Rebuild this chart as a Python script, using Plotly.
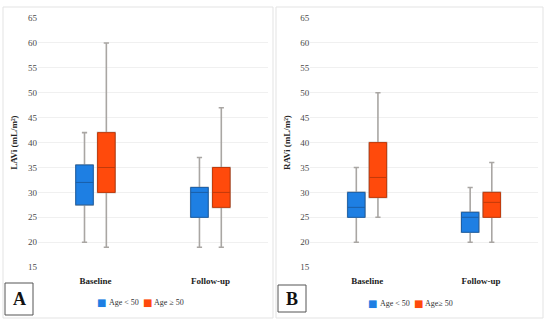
import plotly.graph_objects as go

categories = ["Baseline", "Follow-up"]

# Panel A: LAVi
lavi_young_low = [20, 19]
lavi_young_q1 = [27.5, 25]
lavi_young_med = [32, 30]
lavi_young_q3 = [35.5, 31]
lavi_young_high = [42, 37]

lavi_old_low = [19, 19]
lavi_old_q1 = [30, 27]
lavi_old_med = [35, 30]
lavi_old_q3 = [42, 35]
lavi_old_high = [60, 47]

# Panel B: RAVi
ravi_young_low = [20, 20]
ravi_young_q1 = [25, 22]
ravi_young_med = [27, 25]
ravi_young_q3 = [30, 26]
ravi_young_high = [35, 31]

ravi_old_low = [25, 20]
ravi_old_q1 = [29, 25]
ravi_old_med = [33, 28]
ravi_old_q3 = [40, 30]
ravi_old_high = [50, 36]

legend_names_a = ["Age < 50", "Age ≥ 50"]
legend_names_b = ["Age < 50", "Age≥ 50"]

fill_colors = ["#1E7FE3", "#FF4A0C"]
edge_colors = ["#1A5FA8", "#C23A0A"]
whisker_color = "#A9A6A3"
serif = "Liberation Serif, Times New Roman, serif"

fig = go.Figure()

panels = [
    ("x", "y",
     [(lavi_young_low, lavi_young_q1, lavi_young_med, lavi_young_q3, lavi_young_high),
      (lavi_old_low, lavi_old_q1, lavi_old_med, lavi_old_q3, lavi_old_high)],
     legend_names_a),
    ("x2", "y2",
     [(ravi_young_low, ravi_young_q1, ravi_young_med, ravi_young_q3, ravi_young_high),
      (ravi_old_low, ravi_old_q1, ravi_old_med, ravi_old_q3, ravi_old_high)],
     legend_names_b),
]

for xa, ya, data, names in panels:
    for i, (lo, q1, med, q3, hi) in enumerate(data):
        og = f"{xa}g{i}"
        # whiskers (gray)
        fig.add_trace(go.Box(
            x=categories, lowerfence=lo, q1=q1, median=med, q3=q3, upperfence=hi,
            name=names[i], showlegend=False,
            fillcolor=fill_colors[i], line=dict(color=whisker_color, width=1.6),
            whiskerwidth=0.3, offsetgroup=og, xaxis=xa, yaxis=ya,
            boxpoints=False, hoverinfo="skip",
        ))
        # box overlay with colored edge
        fig.add_trace(go.Box(
            x=categories, lowerfence=q1, q1=q1, median=med, q3=q3, upperfence=q3,
            name=names[i], showlegend=False,
            fillcolor=fill_colors[i], line=dict(color=edge_colors[i], width=1),
            whiskerwidth=0, offsetgroup=og, xaxis=xa, yaxis=ya,
            boxpoints=False, hoverinfo="skip",
        ))

axis_common = dict(showline=False, zeroline=False, ticks="", automargin=False,
                   tickfont=dict(family=serif, size=9, color="#4a4a4a"))
xaxis_common = dict(showgrid=False, automargin=False, ticklabelstandoff=7,
                    tickfont=dict(family=serif, size=9, color="#222"))

fig.update_layout(
    width=550, height=323,
    margin=dict(l=0, r=0, t=0, b=0, autoexpand=False),
    paper_bgcolor="white", plot_bgcolor="white",
    boxmode="group", boxgap=0.62, boxgroupgap=0.2,
    showlegend=False,
    xaxis=dict(domain=[0.069, 0.487], anchor="y", **xaxis_common),
    yaxis=dict(domain=[0.173, 0.944], anchor="x", range=[15, 65], dtick=5,
               showgrid=True, gridcolor="#F0F0F0", gridwidth=1,
               title=dict(text="<b>LAVi (mL/m²)</b>", font=dict(family=serif, size=9, color="#222"),
                          standoff=8), **axis_common),
    xaxis2=dict(domain=[0.564, 0.978], anchor="y2", **xaxis_common),
    yaxis2=dict(domain=[0.173, 0.944], anchor="x2", range=[15, 65], dtick=5,
                showgrid=True, gridcolor="#F0F0F0", gridwidth=1,
                title=dict(text="<b>RAVi (mL/m²)</b>", font=dict(family=serif, size=9, color="#222"),
                           standoff=8), **axis_common),
)

fig.update_xaxes(tickvals=categories, ticktext=[f"<b>{c}</b>" for c in categories])

def px_to_paper(x, y):
    return x / 550, 1 - y / 323

shapes = []
for (x0, y0, x1, y1, col) in [(3, 7, 273, 318, "#E3E3E3"), (276, 7, 543, 318, "#E3E3E3"),
                              (5, 283, 33, 315, "#555555"), (278, 285, 306, 312, "#555555")]:
    a0, b0 = px_to_paper(x0, y0)
    a1, b1 = px_to_paper(x1, y1)
    shapes.append(dict(type="rect", xref="paper", yref="paper", x0=a0, x1=a1, y0=b1, y1=b0,
                       line=dict(color=col, width=1)))
fig.update_layout(shapes=shapes)

for label, cx, cy in [("A", 19, 299), ("B", 292, 298.5)]:
    ax, ay = px_to_paper(cx, cy)
    fig.add_annotation(text=f"<b>{label}</b>", x=ax, y=ay, xref="paper", yref="paper",
                       showarrow=False, xanchor="center", yanchor="middle",
                       font=dict(family=serif, size=18, color="#111"))

# legends (colour key + label), placed under each panel
legend_layout = [
    (legend_names_a, [(101, 107), (147, 152)], 302),
    (legend_names_b, [(372, 378), (418, 423)], 303),
]
for names, spots, ly in legend_layout:
    for i, (sx, tx) in enumerate(spots):
        ax, ay = px_to_paper(sx, ly)
        fig.add_annotation(text="■", x=ax, y=ay, xref="paper", yref="paper",
                           showarrow=False, xanchor="center", yanchor="middle",
                           font=dict(family="DejaVu Sans", size=10, color=fill_colors[i]))
        ax, ay = px_to_paper(tx, ly)
        fig.add_annotation(text=names[i], x=ax, y=ay, xref="paper", yref="paper",
                           showarrow=False, xanchor="left", yanchor="middle",
                           font=dict(family=serif, size=8, color="#333"))

fig.write_html("out.html")
